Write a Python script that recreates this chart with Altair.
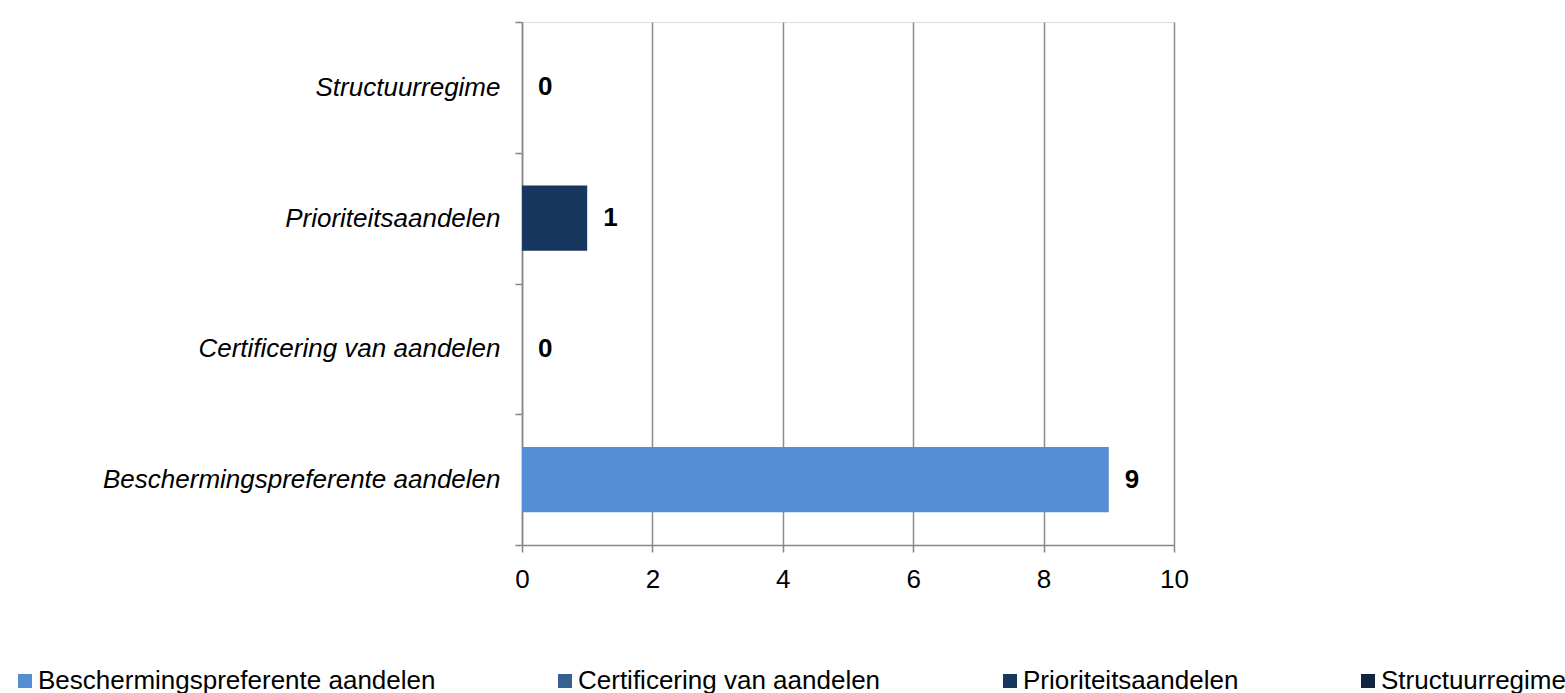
import altair as alt
import pandas as pd

categories = ["Structuurregime", "Prioriteitsaandelen", "Certificering van aandelen", "Beschermingspreferente aandelen"]
values = [0, 1, 0, 9]
legend_order = ["Beschermingspreferente aandelen", "Certificering van aandelen", "Prioriteitsaandelen", "Structuurregime"]
legend_colors = ["#558ED5", "#376092", "#17375E", "#10253F"]
x_ticks = [0, 2, 4, 6, 8, 10]

df = pd.DataFrame({"cat": categories, "val": values})

FONT = "Liberation Sans"

y_enc = alt.Y("cat:N", sort=categories, title=None,
              scale=alt.Scale(paddingInner=0, paddingOuter=0),
              axis=alt.Axis(tickBand="extent", labelFontStyle="italic", labelFont=FONT,
                            labelFontSize=26, labelColor="#000000", labelPadding=15,
                            tickSize=7, tickColor="#868686", tickWidth=1.5,
                            domainColor="#868686", domainWidth=1.5, grid=False,
                            labelLimit=600))
x_enc = alt.X("val:Q", title=None,
              scale=alt.Scale(domain=[0, 10], nice=False),
              axis=alt.Axis(values=x_ticks, grid=True, gridColor="#8c8c8c", gridWidth=1.5,
                            labelFont=FONT, labelFontSize=26, labelColor="#000000",
                            labelPadding=14, tickSize=7, tickColor="#868686", tickWidth=1.5,
                            domainColor="#868686", domainWidth=1.5, format="d",
                            labelFlush=False))

bars = alt.Chart(df).mark_bar(height=alt.RelativeBandSize(0.5)).encode(
    x=x_enc,
    y=y_enc,
    color=alt.Color("cat:N", scale=alt.Scale(domain=legend_order, range=legend_colors),
                    sort=legend_order,
                    legend=alt.Legend(title=None, orient="none", direction="horizontal",
                                      legendX=-510, legendY=646, columns=4, padding=0,
                                      symbolType="square", symbolSize=196,
                                      symbolStrokeWidth=0, labelFont=FONT, labelFontSize=26,
                                      labelColor="#000000", columnPadding=116,
                                      labelOffset=0, labelLimit=800)),
)

labels = alt.Chart(df).mark_text(align="left", baseline="middle", dx=16,
                                 font=FONT, fontSize=26, fontWeight="bold",
                                 color="#000000").encode(
    x=alt.X("val:Q"),
    y=alt.Y("cat:N", sort=categories),
    text=alt.Text("val:Q", format="d"),
)

chart = (bars + labels).properties(
    width=652, height=523,
    autosize=alt.AutoSizeParams(type="none"),
    padding={"left": 522, "top": 22, "right": 391, "bottom": 148},
).configure_view(stroke=None).configure(background="#ffffff")

chart.save("out.html", embed_options={"renderer": "svg", "actions": False})
